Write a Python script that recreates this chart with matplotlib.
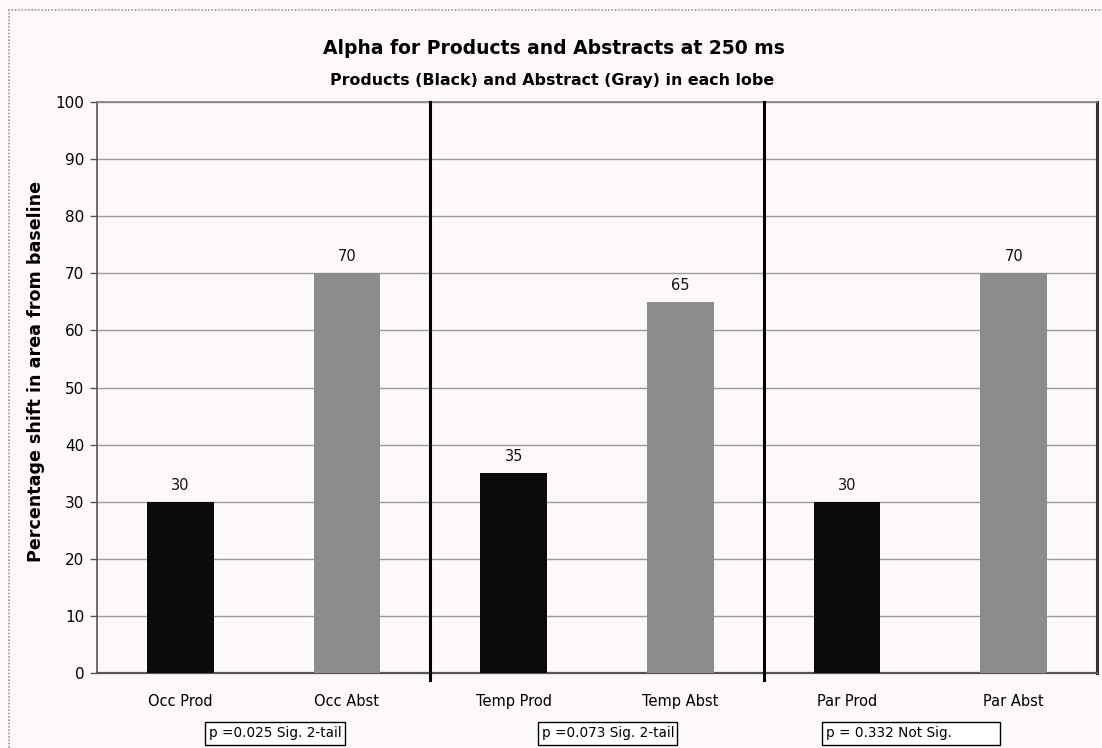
import matplotlib
matplotlib.use("Agg")
import matplotlib.pyplot as plt
from matplotlib.patches import Rectangle

# Data
categories = ["Occ Prod", "Occ Abst", "Temp Prod", "Temp Abst", "Par Prod", "Par Abst"]
values = [30, 70, 35, 65, 30, 70]
bar_colors = ["#0b0b0b", "#8c8c8c", "#0b0b0b", "#8c8c8c", "#0b0b0b", "#8c8c8c"]
p_labels = ["p =0.025 Sig. 2-tail", "p =0.073 Sig. 2-tail", "p = 0.332 Not Sig."]
y_ticks = list(range(0, 101, 10))

title = "Alpha for Products and Abstracts at 250 ms"
subtitle = "Products (Black) and Abstract (Gray) in each lobe"
y_label = "Percentage shift in area from baseline"

W, H = 1102, 748
bg = "#fdf9f9"
fig = plt.figure(figsize=(W / 100, H / 100), dpi=100, facecolor=bg)


def fx(px):
    return px / W


def fy(py):
    return 1 - py / H


# Outer dotted chart frame
fig.patches.append(Rectangle((fx(9), fy(760)), fx(1110) - fx(9), fy(10) - fy(760),
                             transform=fig.transFigure, fill=False,
                             edgecolor="#9a9a9a", lw=1.2, ls=(0, (1, 1))))

left, right, top, bottom = 97, 1097, 102, 673
ax = fig.add_axes([fx(left), fy(bottom), fx(right) - fx(left), fy(top) - fy(bottom)])
ax.set_facecolor(bg)

x = list(range(len(categories)))
ax.bar(x, values, width=0.4, color=bar_colors, zorder=3)
for xi, v in zip(x, values):
    ax.text(xi, v + 1.6, f"{v}", ha="center", va="bottom", fontsize=10.5, color="#111111", zorder=4)

ax.set_xlim(-0.5, len(categories) - 0.5)
ax.set_ylim(0, 100)
ax.set_yticks(y_ticks)
ax.set_yticklabels([str(t) for t in y_ticks], fontsize=11)
ax.yaxis.grid(True, color="#9a9a9a", lw=1.0, zorder=1)
ax.set_axisbelow(True)

ax.set_xticks(x)
ax.set_xticklabels(categories, fontsize=10.5)
ax.tick_params(axis="x", length=0, pad=15)
ax.tick_params(axis="y", length=5, width=1, color="#555555", pad=4)

# Lobe separators
for b in (1.5, 3.5):
    ax.plot([b, b], [-1.2, 100], color="black", lw=2.2, zorder=4, clip_on=False)

for side, col, lw in (("left", "#555555", 1.2), ("bottom", "#555555", 1.6),
                      ("top", "#808080", 1.2), ("right", "#333333", 2.2)):
    ax.spines[side].set_color(col)
    ax.spines[side].set_linewidth(lw)

fig.text(fx(36), fy(371), y_label, rotation=90, ha="center", va="center",
         fontsize=12.6, fontweight="bold")
fig.text(fx(554), fy(48), title, ha="center", va="center", fontsize=13.5, fontweight="bold")
fig.text(fx(552), fy(81), subtitle, ha="center", va="center", fontsize=11.4, fontweight="bold")

# p-value boxes under each lobe
box_left = [205, 538, 822]
box_right = [345, 677, 1000]
box_top, box_bottom = 722, 745
for bl, br, lab in zip(box_left, box_right, p_labels):
    fig.patches.append(Rectangle((fx(bl), fy(box_bottom)), fx(br) - fx(bl), fy(box_top) - fy(box_bottom),
                                 transform=fig.transFigure, facecolor="white",
                                 edgecolor="black", lw=1.0))
    fig.text(fx(bl + 4), fy((box_top + box_bottom) / 2), lab, ha="left", va="center",
             fontsize=9.8)

fig.savefig("out.png", dpi=100, facecolor=bg)
